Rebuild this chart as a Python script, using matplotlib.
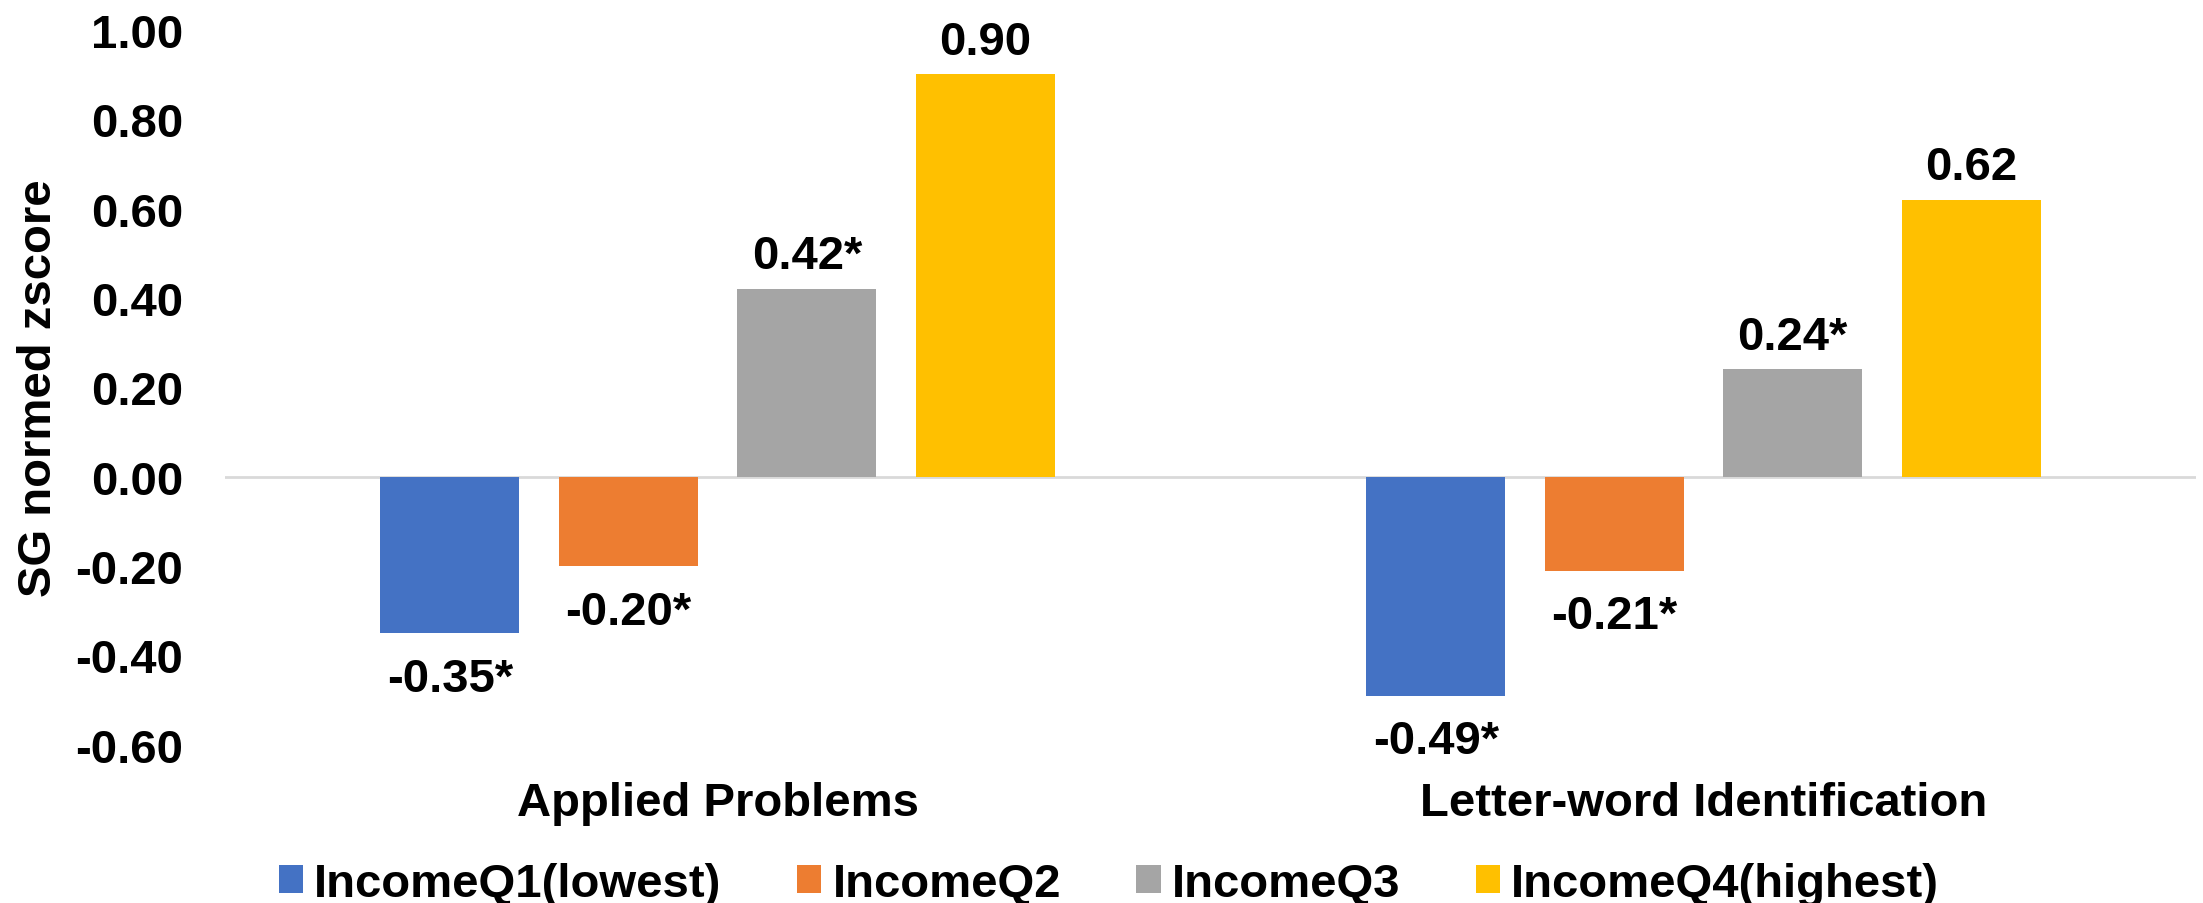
import matplotlib
matplotlib.use("Agg")
import matplotlib.pyplot as plt
import numpy as np

plt.rcParams['font.family'] = ['Liberation Sans', 'DejaVu Sans']
plt.rcParams['font.weight'] = 'bold'

categories = ["Applied Problems", "Letter-word Identification"]
series = ["IncomeQ1(lowest)", "IncomeQ2", "IncomeQ3", "IncomeQ4(highest)"]
values = [
    [-0.35, -0.49],
    [-0.20, -0.21],
    [0.42, 0.24],
    [0.90, 0.62],
]
labels = [
    ["-0.35*", "-0.49*"],
    ["-0.20*", "-0.21*"],
    ["0.42*", "0.24*"],
    ["0.90", "0.62"],
]
colors = ["#4472C4", "#ED7D31", "#A5A5A5", "#FFC000"]
yticks = [-0.6, -0.4, -0.2, 0.0, 0.2, 0.4, 0.6, 0.8, 1.0]

fs = 34

fig = plt.figure(figsize=(22.03, 9.04), dpi=100)
ax = fig.add_axes([0.102, 0.175, 0.895, 0.791])

x = np.arange(len(categories))
w = 0.141
step = 0.181
for i, (vals, labs) in enumerate(zip(values, labels)):
    pos = x + (i - 1.5) * step
    ax.bar(pos, vals, w, color=colors[i], label=series[i], zorder=2)
    for p, v, t in zip(pos, vals, labs):
        if v >= 0:
            ax.annotate(t, (p, v), xytext=(0, 15), textcoords="offset points",
                        ha="center", va="baseline", fontsize=fs, fontweight="bold")
        else:
            ax.annotate(t, (p, v), xytext=(0, -17), textcoords="offset points",
                        ha="center", va="top", fontsize=fs, fontweight="bold")

ax.set_xlim(-0.5, 1.5)
ax.set_ylim(-0.6, 1.0)
ax.set_yticks(yticks)
ax.set_yticklabels([f"{t:.2f}" for t in yticks], fontsize=fs, fontweight="bold")
ax.set_xticks(x)
ax.set_xticklabels(categories, fontsize=fs, fontweight="bold")
ax.tick_params(axis="y", length=0, pad=30)
ax.tick_params(axis="x", length=0, pad=26)
ax.axhline(0, color="#D9D9D9", lw=2, zorder=1)
for s in ax.spines.values():
    s.set_visible(False)
ax.set_ylabel("SG normed zscore", fontsize=fs, fontweight="bold", labelpad=10)

fig.legend(loc="lower center", bbox_to_anchor=(0.5034, -0.003), ncol=4, frameon=False,
           handlelength=0.51, handleheight=0.53, handletextpad=0.24,
           columnspacing=1.6, borderpad=0.0, borderaxespad=0.0,
           prop={"weight": "bold", "size": fs})

fig.savefig("out.png", dpi=100)
